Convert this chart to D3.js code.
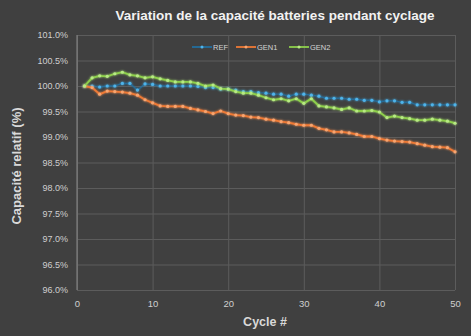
<!DOCTYPE html>
<html><head><meta charset="utf-8">
<script src="https://cdn.jsdelivr.net/npm/d3@7"></script>
<style>
html,body{margin:0;padding:0;background:#404040;}
svg{display:block;}
text{font-family:"Liberation Sans",Arial,sans-serif;}
</style></head>
<body><svg id="c" width="471" height="336"></svg>
<script>
const cycles = d3.range(1, 51);
const REF = [100.00,100.00,99.98,100.00,100.00,100.05,100.05,99.92,100.04,100.03,
 100.00,100.00,100.00,100.00,100.00,99.99,99.97,99.97,99.94,99.94,
 99.92,99.89,99.89,99.87,99.86,99.84,99.84,99.80,99.84,99.84,
 99.82,99.80,99.76,99.76,99.76,99.74,99.74,99.72,99.72,99.69,
 99.71,99.71,99.68,99.68,99.63,99.63,99.63,99.63,99.63,99.63];
const GEN1 = [100.00,99.97,99.84,99.90,99.89,99.88,99.86,99.82,99.73,99.67,
 99.61,99.60,99.60,99.60,99.56,99.53,99.50,99.46,99.51,99.46,
 99.43,99.42,99.39,99.38,99.35,99.33,99.30,99.28,99.25,99.23,
 99.23,99.17,99.14,99.10,99.10,99.08,99.05,99.01,99.01,98.97,
 98.94,98.92,98.91,98.90,98.87,98.84,98.81,98.80,98.79,98.71];
const GEN2 = [100.00,100.16,100.20,100.19,100.24,100.27,100.22,100.20,100.16,100.18,
 100.14,100.11,100.08,100.08,100.08,100.05,100.00,100.02,99.95,99.94,
 99.89,99.86,99.86,99.82,99.77,99.73,99.75,99.71,99.75,99.66,
 99.75,99.61,99.59,99.57,99.54,99.57,99.51,99.51,99.52,99.49,
 99.38,99.41,99.38,99.36,99.33,99.33,99.35,99.33,99.31,99.27];
const yTicks = [96.0,96.5,97.0,97.5,98.0,98.5,99.0,99.5,100.0,100.5,101.0];
const xTicks = [0,10,20,30,40,50];
const seriesNames = ["REF","GEN1","GEN2"];

const series = [
  {name:"REF", values:REF, line:"#236f9f", dot:"#4fb4ea", lw:1.4, lop:0.8},
  {name:"GEN1", values:GEN1, line:"#ef7a36", dot:"#f8a56f", lw:1.8, lop:1},
  {name:"GEN2", values:GEN2, line:"#8ed04c", dot:"#b8ea84", lw:1.8, lop:1}
];

const svg = d3.select("#c");
const L=77, R=455, T=35, B=290;
const x = d3.scaleLinear().domain([0,50]).range([L,R]);
const y = d3.scaleLinear().domain([96,101]).range([B,T]);

const defs = svg.append("defs");
const f = defs.append("filter").attr("id","glow").attr("x","-20%").attr("y","-20%").attr("width","140%").attr("height","140%");
f.append("feGaussianBlur").attr("stdDeviation",1.2).attr("result","b");
const m = f.append("feMerge");
m.append("feMergeNode").attr("in","b");
m.append("feMergeNode").attr("in","SourceGraphic");

svg.append("rect").attr("width",471).attr("height",336).attr("fill","#404040");

// grid
const gy = svg.append("g").attr("transform",`translate(${L},0)`)
  .call(d3.axisLeft(y).tickValues(yTicks).tickSize(-(R-L)).tickFormat(d=>d.toFixed(1)+"%"));
gy.select(".domain").attr("stroke","#8a8a8a");
gy.selectAll(".tick line").attr("stroke","#5c5c5c").attr("stroke-width",1);
gy.selectAll(".tick text").attr("fill","#cfcfcf").attr("font-size",9).attr("x",-9).attr("dy","0.32em");

const gx = svg.append("g").attr("transform",`translate(0,${B})`)
  .call(d3.axisBottom(x).tickValues(xTicks).tickSize(-(B-T)).tickFormat(d3.format("d")));
gx.select(".domain").remove();
gx.selectAll(".tick line").attr("stroke","#5c5c5c").attr("stroke-width",1);
gx.selectAll(".tick text").attr("fill","#cfcfcf").attr("font-size",9.5).attr("y",10);
svg.append("line").attr("x1",L).attr("x2",L).attr("y1",T).attr("y2",B).attr("stroke","#8a8a8a");

// lines
const line = d3.line().x((d,i)=>x(cycles[i])).y(d=>y(d));
series.forEach(s=>{
  const g = svg.append("g").attr("filter","url(#glow)");
  g.append("path").datum(s.values).attr("d",line).attr("fill","none")
    .attr("stroke",s.line).attr("stroke-width",s.lw).attr("stroke-opacity",s.lop);
  g.selectAll("circle").data(s.values).enter().append("circle")
    .attr("cx",(d,i)=>x(cycles[i])).attr("cy",d=>y(d)).attr("r",1.6).attr("fill",s.dot);
});

// legend
const lg = svg.append("g");
const legX = [192,236,289];
series.forEach((s,i)=>{
  const gx0 = legX[i];
  lg.append("line").attr("x1",gx0).attr("x2",gx0+20).attr("y1",47).attr("y2",47)
    .attr("stroke",s.line).attr("stroke-width",1.8);
  lg.append("circle").attr("cx",gx0+10).attr("cy",47).attr("r",1.5).attr("fill",s.dot);
  lg.append("text").attr("x",gx0+21).attr("y",47).attr("dy","0.35em")
    .attr("font-size",7.5).attr("fill","#d4d4d4").text(seriesNames[i]);
});

// titles
svg.append("text").attr("x",275).attr("y",20).attr("text-anchor","middle")
  .attr("font-size",13.5).attr("font-weight","bold").attr("fill","#f2f2f2")
  .text("Variation de la capacité batteries pendant cyclage");
svg.append("text").attr("x",265).attr("y",326).attr("text-anchor","middle")
  .attr("font-size",12.5).attr("font-weight","bold").attr("fill","#d9d9d9").text("Cycle #");
svg.append("text").attr("transform","translate(21,166) rotate(-90)").attr("text-anchor","middle")
  .attr("font-size",13).attr("font-weight","bold").attr("fill","#d9d9d9").text("Capacité relatif (%)");
</script></body></html>
